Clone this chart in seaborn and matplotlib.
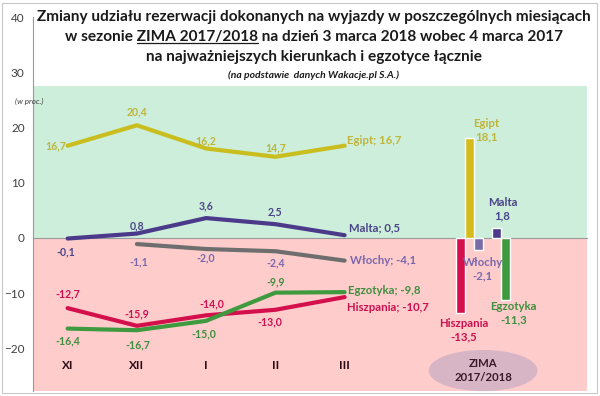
import numpy as np
import pandas as pd
import matplotlib
matplotlib.use("Agg")
import matplotlib.pyplot as plt
import seaborn as sns
from matplotlib.patches import Ellipse, Rectangle
from matplotlib.lines import Line2D

# data
months = ["XI", "XII", "I", "II", "III"]
egipt = [16.7, 20.4, 16.2, 14.7, 16.7]
malta = [-0.1, 0.8, 3.6, 2.5, 0.5]
wlochy = [np.nan, -1.1, -2.0, -2.4, -4.1]
hiszpania = [-12.7, -15.9, -14.0, -13.0, -10.7]
egzotyka = [-16.4, -16.7, -15.0, -9.9, -9.8]

bar_names = ["Hiszpania", "Egipt", "Włochy", "Malta", "Egzotyka"]
bar_values = [-13.5, 18.1, -2.1, 1.8, -11.3]
season = "ZIMA\n2017/2018"

series = {"Egipt": egipt, "Malta": malta, "Włochy": wlochy,
          "Hiszpania": hiszpania, "Egzotyka": egzotyka}

line_colors = {"Egipt": "#C9BE1E", "Malta": "#4B3A8A", "Włochy": "#6E6E6E",
               "Hiszpania": "#D4104C", "Egzotyka": "#3F9A3F"}
text_colors = {"Egipt": "#BFB53A", "Malta": "#4A4488", "Włochy": "#7A68AC",
               "Hiszpania": "#CC1050", "Egzotyka": "#3E8E3E"}
bar_colors = {"Egipt": "#D4BC1C", "Malta": "#4B3A8A", "Włochy": "#7B6AA8",
              "Hiszpania": "#D4104C", "Egzotyka": "#3F9A3F"}

rows = []
for name, vals in series.items():
    for i, v in enumerate(vals):
        rows.append({"series": name, "pos": i, "val": v})
df = pd.DataFrame(rows)

sns.set_style("white")
plt.rcParams["font.family"] = ["Lato", "DejaVu Sans"]

fig = plt.figure(figsize=(6, 3.96), dpi=100)
ax = fig.add_axes([33 / 600, 1 - 391 / 396, (587 - 33) / 600, (391 - 17) / 396])

ymin, ymax = -27.7, 40
ax.set_xlim(-0.5, 7.5)
ax.set_ylim(ymin, ymax)
ax.axhspan(0, 27.5, color="#CCEEDA", zorder=0, lw=0)
ax.axhspan(ymin, 0, color="#FFCCCC", zorder=0, lw=0)

sns.lineplot(data=df.dropna(), x="pos", y="val", hue="series", palette=line_colors,
             lw=3, legend=False, ax=ax, zorder=3)

# point labels: offsets in px (dx, dy, ha)
offs = {
    "Egipt": [(-1, 0, "right"), (0, 13, "center"), (0, 8, "center"), (0, 9, "center")],
    "Malta": [(-2, -13, "center"), (0, 8, "center"), (0, 12, "center"), (0, 12, "center")],
    "Włochy": [None, (2, -18, "center"), (0, -9, "center"), (0, -12, "center")],
    "Hiszpania": [(0, 14, "center"), (0, 12, "center"), (6, 11, "center"), (-6, -12, "center")],
    "Egzotyka": [(0, -12, "center"), (1, -15, "center"), (-2, -13, "center"), (0, 11, "center")],
}
end_offs = {"Egipt": (2, 5), "Malta": (4, 7), "Włochy": (5, 0),
            "Hiszpania": (2, -10), "Egzotyka": (3, 2)}

fmt = lambda v: f"{v:.1f}".replace(".", ",")
for name, vals in series.items():
    for i in range(4):
        o = offs[name][i]
        if o is None:
            continue
        ax.annotate(fmt(vals[i]), (i, vals[i]), xytext=(o[0] * 0.72, o[1] * 0.72),
                    textcoords="offset points", ha=o[2], va="center",
                    fontsize=7.6, fontweight="bold", color=text_colors[name], zorder=5)
    dx, dy = end_offs[name]
    ax.annotate(f"{name}; {fmt(vals[4])}", (4, vals[4]), xytext=(dx * 0.72, dy * 0.72),
                textcoords="offset points", ha="left", va="center",
                fontsize=8.2, fontweight="bold", color=text_colors[name], zorder=5)

# season bars
slots = [0, 1, 2, 4, 5]
bar_off = {"Hiszpania": (3, -18), "Egipt": (17, 8), "Włochy": (4, -20),
           "Malta": (6, 19), "Egzotyka": (8, -13)}
for name, v, s in zip(bar_names, bar_values, slots):
    x = 6 + (s - 2.5) * 0.13
    ax.bar(x, v, width=0.12, color=bar_colors[name], zorder=3)
    dx, dy = bar_off[name]
    ax.annotate(f"{name}\n{fmt(v)}", (x, v), xytext=(dx * 0.72, dy * 0.72),
                textcoords="offset points", ha="center", va="center",
                fontsize=8.2, fontweight="bold", color=text_colors[name],
                linespacing=1.25, zorder=5)

# month labels
for i, m in enumerate(months):
    ax.text(i, -23.1, m, ha="center", va="center", fontsize=8.5,
            fontweight="bold", color="#2B0B14")

ell = Ellipse((6, -24.0), 1.55, 7.2, color="#D7B5C4", zorder=2, clip_on=False)
ax.add_patch(ell)
ax.text(6, -24.0, season, ha="center", va="center", fontsize=8.2,
        fontweight="bold", color="#3A1A2A", linespacing=1.3, zorder=4)

# axes styling
for s in ["top", "right"]:
    ax.spines[s].set_visible(False)
ax.spines["left"].set_color("#9A9A9A")
ax.spines["bottom"].set_position(("data", 0))
ax.spines["bottom"].set_color("#9A9A9A")
ax.spines["bottom"].set_zorder(1)
ax.set_xticks(np.arange(0.5, 8, 1))
ax.set_xticklabels([])
ax.set_yticks([-20, -10, 0, 10, 20, 30, 40])
ax.tick_params(axis="x", direction="out", length=4, color="#9A9A9A")
ax.tick_params(axis="y", direction="out", length=4, color="#9A9A9A",
               labelsize=8.5, labelcolor="#404040", pad=2)
ax.set_xlabel("")
ax.set_ylabel("")

fig.text(15 / 600, 1 - 101 / 396, "(w proc.)", fontsize=5.8, style="italic",
         color="#404040", va="center")

# title
cx = 314 / 600
tkw = dict(ha="center", va="center", fontsize=11.1, fontweight="bold", color="#1A1A1A")
fig.text(cx, 1 - 17 / 396, "Zmiany udziału rezerwacji dokonanych na wyjazdy w poszczególnych miesiącach", **tkw)
line2 = "w sezonie ZIMA 2017/2018 na dzień 3 marca 2018 wobec 4 marca 2017"
t2 = fig.text(cx, 1 - 37 / 396, line2, **tkw)
fig.text(cx, 1 - 57 / 396, "na najważniejszych kierunkach i egzotyce łącznie", **tkw)
fig.text(cx, 1 - 75 / 396, "(na podstawie  danych Wakacje.pl S.A.)", ha="center", va="center",
         fontsize=7.5, style="italic", fontweight="bold", color="#1A1A1A")

fig.canvas.draw()
r = fig.canvas.get_renderer()
bb = t2.get_window_extent(r)
tmp = fig.text(0, 0, "w sezonie ZIMA 2017/2018", **tkw)
w_pre = tmp.get_window_extent(r).width
tmp.remove()
tmp = fig.text(0, 0, "ZIMA 2017/2018", **tkw)
w_z = tmp.get_window_extent(r).width
tmp.remove()
x1 = bb.x0 + w_pre
x0 = x1 - w_z
uy = bb.y0 + 1
W, H = fig.bbox.width, fig.bbox.height
fig.add_artist(Line2D([x0 / W, x1 / W], [uy / H, uy / H], color="#1A1A1A", lw=0.9))

# frame
fig.add_artist(Rectangle((2 / 600, 1 - 393 / 396), 595 / 600, 390 / 396, fill=False,
                         ec="#C8C8C8", lw=0.8))

fig.savefig("out.png", dpi=100)
